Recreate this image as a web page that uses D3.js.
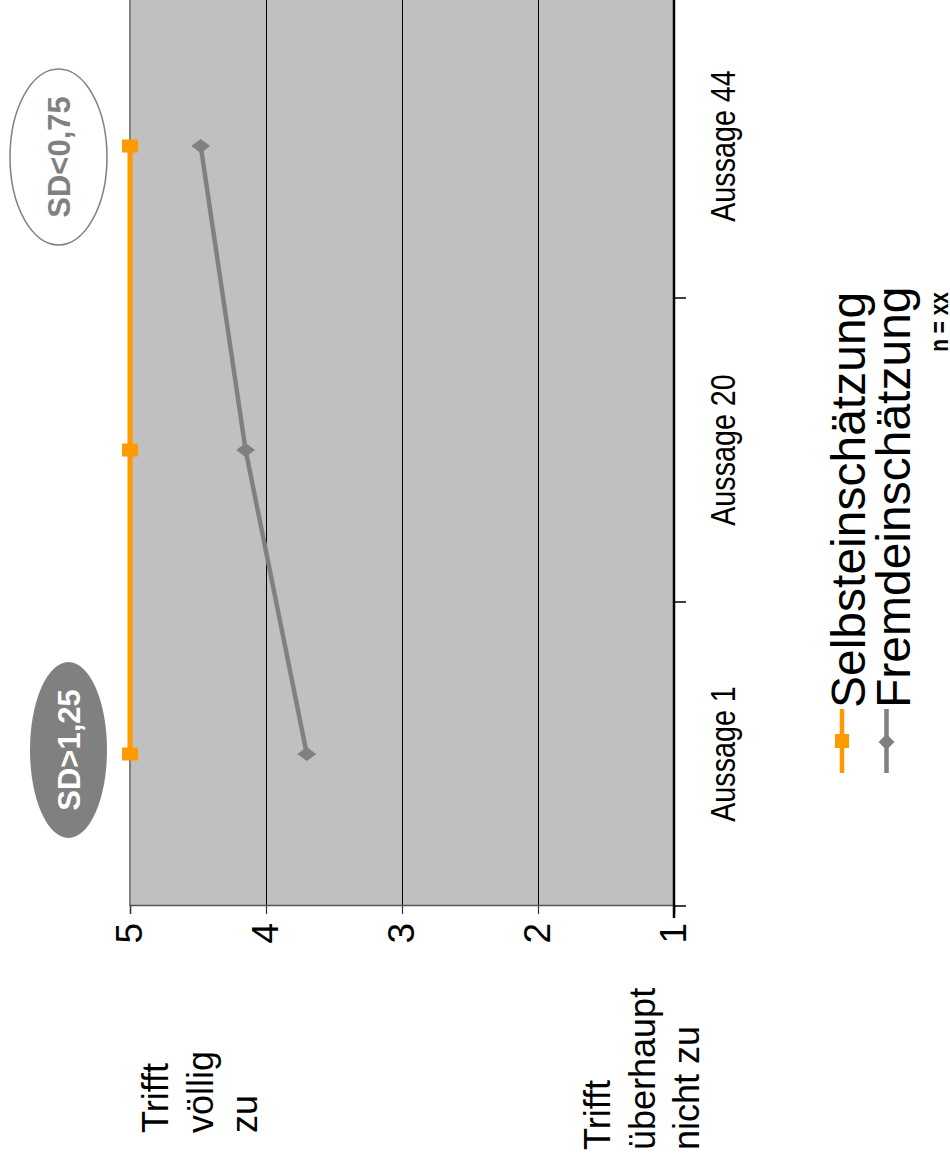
<!DOCTYPE html>
<html>
<head>
<meta charset="utf-8">
<script src="https://cdn.jsdelivr.net/npm/d3@7"></script>
<style>
  html, body { margin: 0; padding: 0; background: #fff; }
  svg { display: block; }
</style>
</head>
<body>
<svg id="chart" width="950" height="1162"></svg>
<script>
// Statements and scale
const categories = ["Aussage 1", "Aussage 20", "Aussage 44"];
const selbst = [5, 5, 5];           // Selbsteinschätzung
const fremd = [3.7, 4.15, 4.48];    // Fremdeinschätzung
const valueTicks = [1, 2, 3, 4, 5];
const seriesNames = ["Selbsteinschätzung", "Fremdeinschätzung"];
const sdNotes = [
  { cat: "Aussage 1", text: "SD>1,25", filled: true },
  { cat: "Aussage 44", text: "SD<0,75", filled: false }
];
const scaleTop = ["Trifft", "völlig", "zu"];
const scaleBottom = ["Trifft", "überhaupt", "nicht zu"];
const sampleNote = "n = xx";

const W = 950, H = 1162;
const ORANGE = "#FF9900", GREY = "#808080", PLOT = "#C0C0C0";
const SANS = "'Liberation Sans', Arial, sans-serif";
const NARROW = 0.82; // horizontal squeeze giving an Arial Narrow look

const svg = d3.select("#chart");
// The chart is laid out landscape and turned a quarter to the left.
const g = svg.append("g").attr("transform", `translate(0,${H}) rotate(-90)`);

const plot = { left: 256, right: 1168, top: 130, bottom: 674 };

const x = d3.scaleBand().domain(categories).range([plot.left, plot.right]).padding(0);
const y = d3.scaleLinear().domain([1, 5]).range([plot.bottom, plot.top]);
const cx = c => x(c) + x.bandwidth() / 2;

// plot area
g.append("rect")
  .attr("x", plot.left).attr("y", plot.top)
  .attr("width", plot.right - plot.left).attr("height", plot.bottom - plot.top)
  .attr("fill", PLOT);

// gridlines
g.append("g").selectAll("line")
  .data(valueTicks.filter(v => v > 1 && v < 5))
  .join("line")
  .attr("x1", plot.left).attr("x2", plot.right)
  .attr("y1", d => y(d) + 0.5).attr("y2", d => y(d) + 0.5)
  .attr("stroke", "#000").attr("stroke-width", 1)
  .attr("shape-rendering", "crispEdges");

// top border of the plot
g.append("line")
  .attr("x1", plot.left).attr("x2", plot.right)
  .attr("y1", y(5)).attr("y2", y(5))
  .attr("stroke", GREY).attr("stroke-width", 2);

// value axis
const yAxis = d3.axisLeft(y).tickValues(valueTicks).tickSize(8).tickPadding(9)
  .tickFormat(d3.format("d"));
const yg = g.append("g").attr("transform", `translate(${plot.left},0)`).call(yAxis);
yg.select(".domain").attr("stroke", "#555").attr("stroke-width", 1.5);
yg.selectAll(".tick line").attr("stroke", "#333").attr("stroke-width", 1.2);
yg.selectAll(".tick text")
  .attr("font-family", SANS).attr("font-size", 37).attr("fill", "#000");

// category axis
const xAxis = d3.axisBottom(x).tickSize(0).tickPadding(0);
const xg = g.append("g").attr("transform", `translate(0,${plot.bottom})`).call(xAxis);
xg.select(".domain").remove();
xg.selectAll(".tick text")
  .attr("dy", null).attr("y", 61)
  .attr("transform", `scale(${NARROW},1)`)
  .attr("font-family", SANS).attr("font-size", 35).attr("fill", "#000");
g.append("line")
  .attr("x1", plot.left - 12).attr("x2", plot.right)
  .attr("y1", plot.bottom).attr("y2", plot.bottom)
  .attr("stroke", "#000").attr("stroke-width", 2.5);
const bounds = categories.map(c => x(c)).concat([x.range()[1]]);
g.append("g").selectAll("line").data(bounds).join("line")
  .attr("x1", d => d).attr("x2", d => d)
  .attr("y1", plot.bottom).attr("y2", plot.bottom + 12)
  .attr("stroke", "#000").attr("stroke-width", 1.5);

// series lines
const line = d3.line().x(d => cx(d.c)).y(d => y(d.v));
const selbstData = categories.map((c, i) => ({ c, v: selbst[i] }));
const fremdData = categories.map((c, i) => ({ c, v: fremd[i] }));

g.append("path").datum(fremdData).attr("d", line)
  .attr("fill", "none").attr("stroke", GREY).attr("stroke-width", 4.5);
g.append("path").datum(selbstData).attr("d", line)
  .attr("fill", "none").attr("stroke", ORANGE).attr("stroke-width", 5);

const diamond = (hw, hh) => `M0,${-hh}L${hw},0L0,${hh}L${-hw},0Z`;

g.append("g").selectAll("path").data(fremdData).join("path")
  .attr("transform", d => `translate(${cx(d.c)},${y(d.v)})`)
  .attr("d", diamond(7, 9.5)).attr("fill", GREY);
g.append("g").selectAll("rect").data(selbstData).join("rect")
  .attr("x", d => cx(d.c) - 6.5).attr("y", d => y(d.v) - 8)
  .attr("width", 13).attr("height", 16).attr("fill", ORANGE);

// standard deviation notes, set just outside the plot above each statement
sdNotes.forEach(n => {
  const ux = cx(n.cat) + (n.filled ? 4 : -11);
  const vy = n.filled ? 68.5 : 58.5;
  g.append("ellipse")
    .attr("cx", ux).attr("cy", vy)
    .attr("rx", 88).attr("ry", n.filled ? 38.5 : 48.5)
    .attr("fill", n.filled ? GREY : "#fff")
    .attr("stroke", GREY).attr("stroke-width", n.filled ? 0 : 1.5);
  g.append("text")
    .attr("x", ux).attr("y", vy).attr("dy", "0.36em")
    .attr("text-anchor", "middle")
    .attr("font-family", SANS).attr("font-weight", "bold").attr("font-size", 31)
    .attr("fill", n.filled ? "#fff" : GREY)
    .text(n.text);
});

// scale anchors on the left
const anchorText = (lines, u, v0) => {
  g.append("g").selectAll("text").data(lines).join("text")
    .attr("x", u).attr("y", (d, i) => v0 + i * 44.5)
    .attr("font-family", SANS).attr("font-size", 36).attr("fill", "#000")
    .text(d => d);
};
anchorText(scaleTop, 29, 168);
anchorText(scaleBottom, 12, 610);

// legend
const legend = g.append("g");
seriesNames.forEach((name, i) => {
  const v = 842 + i * 44.5;
  legend.append("line")
    .attr("x1", 389).attr("x2", 453).attr("y1", v).attr("y2", v)
    .attr("stroke", i === 0 ? ORANGE : GREY).attr("stroke-width", 4.5);
  if (i === 0) {
    legend.append("rect").attr("x", 421 - 7).attr("y", v - 7)
      .attr("width", 14).attr("height", 14).attr("fill", ORANGE);
  } else {
    legend.append("path").attr("transform", `translate(420,${v})`)
      .attr("d", diamond(8, 8)).attr("fill", GREY);
  }
  legend.append("text")
    .attr("x", 454).attr("y", 865 + i * 44.5)
    .attr("font-family", SANS).attr("font-size", 48).attr("fill", "#000")
    .text(name);
});
// sample size, set in a slightly condensed bold face
legend.append("text")
  .attr("transform", "translate(840,948) scale(0.8,1)")
  .attr("text-anchor", "middle")
  .attr("font-family", SANS).attr("font-weight", "bold").attr("font-size", 26)
  .attr("fill", "#000")
  .text(sampleNote);
</script>
</body>
</html>
